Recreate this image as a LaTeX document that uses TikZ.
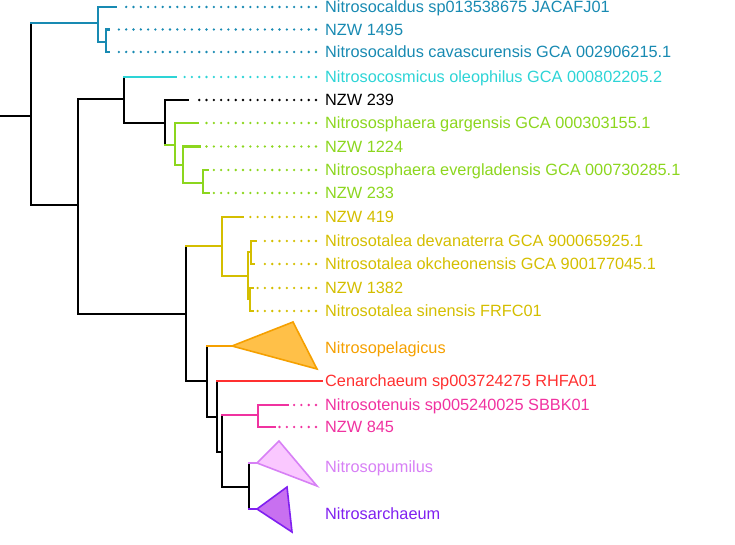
\documentclass[tikz,border=0pt]{standalone}
\usepackage{fontspec}
\setmainfont{Liberation Sans}
\definecolor{caldus}{RGB}{24,138,178}
\definecolor{cosmic}{RGB}{45,212,214}
\definecolor{sphaera}{RGB}{140,214,30}
\definecolor{talea}{RGB}{212,190,0}
\definecolor{pelag}{RGB}{245,160,0}
\definecolor{pelagfill}{RGB}{255,192,72}
\definecolor{cenarch}{RGB}{255,48,48}
\definecolor{tenuis}{RGB}{240,50,160}
\definecolor{pumil}{RGB}{215,128,245}
\definecolor{pumilfill}{RGB}{250,200,255}
\definecolor{sarch}{RGB}{128,32,240}
\definecolor{sarchfill}{RGB}{200,112,240}

\begin{document}
\begin{tikzpicture}[x=1pt, y=-1pt,
    branch/.style={line width=2.1pt, line cap=rect},
    leafdots/.style={line width=2.6pt, line cap=round, dash pattern=on 0pt off 7.3pt},
    clade/.style={line width=1.6pt, line join=miter},
    taxon/.style={anchor=west, inner sep=0pt, text height=11.7pt, text depth=0pt,
        font=\fontsize{16.3}{19}\selectfont}]

        \useasboundingbox (0,0) rectangle (735,545);

        \coordinate (base) at (0, 116);
        \coordinate (R) at (31, 116);
        \coordinate (B1) at (98, 23);
        \coordinate (B2) at (106, 42);
        \coordinate (A) at (78, 205);
        \coordinate (C1) at (124, 99);
        \coordinate (C2) at (165, 123);
        \coordinate (G1) at (175, 145);
        \coordinate (G2) at (183, 165);
        \coordinate (G3) at (203, 183);
        \coordinate (D) at (186, 314);
        \coordinate (Y1) at (222, 246);
        \coordinate (Y2) at (248, 276);
        \coordinate (Y3) at (251, 252);
        \coordinate (Y4) at (250, 299);
        \coordinate (E) at (207, 381);
        \coordinate (F) at (217, 417);
        \coordinate (H) at (222, 452);
        \coordinate (P) at (258, 415);
        \coordinate (K) at (249, 487);

        \coordinate (t1) at (116, 7);
        \coordinate (t2) at (109, 29.5);
        \coordinate (t3) at (109, 52);
        \coordinate (t4) at (176, 77);
        \coordinate (t5) at (188, 100);
        \coordinate (t6) at (198, 123);
        \coordinate (t7) at (200, 146.5);
        \coordinate (t8) at (208, 170);
        \coordinate (t9) at (209, 193);
        \coordinate (t10) at (243, 217);
        \coordinate (t11) at (256, 241);
        \coordinate (t12) at (254, 264);
        \coordinate (t13) at (253, 288);
        \coordinate (t14) at (253, 311);
        \coordinate (pe) at (232, 346);
        \coordinate (t16) at (322, 381);
        \coordinate (t17) at (288, 405);
        \coordinate (t18) at (275, 427);
        \coordinate (pu) at (257, 463);
        \coordinate (sa) at (257, 509);

        \node[taxon, caldus] (l1) at (325, 7) {Nitrosocaldus sp013538675 JACAFJ01};
        \node[taxon, caldus] (l2) at (325, 29.5) {NZW 1495};
        \node[taxon, caldus] (l3) at (325, 52) {Nitrosocaldus cavascurensis GCA 002906215.1};
        \node[taxon, cosmic] (l4) at (325, 77) {Nitrosocosmicus oleophilus GCA 000802205.2};
        \node[taxon] (l5) at (325, 100) {NZW 239};
        \node[taxon, sphaera] (l6) at (325, 123) {Nitrososphaera gargensis GCA 000303155.1};
        \node[taxon, sphaera] (l7) at (325, 146.5) {NZW 1224};
        \node[taxon, sphaera] (l8) at (325, 170) {Nitrososphaera evergladensis GCA 000730285.1};
        \node[taxon, sphaera] (l9) at (325, 193) {NZW 233};
        \node[taxon, talea] (l10) at (325, 217) {NZW 419};
        \node[taxon, talea] (l11) at (325, 241) {Nitrosotalea devanaterra GCA 900065925.1};
        \node[taxon, talea] (l12) at (325, 264) {Nitrosotalea okcheonensis GCA 900177045.1};
        \node[taxon, talea] (l13) at (325, 288) {NZW 1382};
        \node[taxon, talea] (l14) at (325, 311) {Nitrosotalea sinensis FRFC01};
        \node[taxon, pelag] (l15) at (325, 348) {Nitrosopelagicus};
        \node[taxon, cenarch] (l16) at (325, 381) {Cenarchaeum sp003724275 RHFA01};
        \node[taxon, tenuis] (l17) at (325, 405) {Nitrosotenuis sp005240025 SBBK01};
        \node[taxon, tenuis] (l18) at (325, 427) {NZW 845};
        \node[taxon, pumil] (l19) at (325, 467) {Nitrosopumilus};
        \node[taxon, sarch] (l20) at (325, 514) {Nitrosarchaeum};

        \draw[branch] (base) -- (R);
        \draw[branch] (R |- B1) -- (R |- A);
        \draw[branch, caldus] (R |- B1) -- (B1);
        \draw[branch] (R |- A) -- (A);

        \draw[branch, caldus] (B1 |- t1) -- (B1 |- B2);
        \draw[branch, caldus] (B1 |- t1) -- (t1);
        \draw[branch, caldus] (B1 |- B2) -- (B2);
        \draw[branch, caldus] (B2 |- t2) -- (B2 |- t3);
        \draw[branch, caldus] (B2 |- t2) -- (t2);
        \draw[branch, caldus] (B2 |- t3) -- (t3);

        \draw[branch] (A |- C1) -- (A |- D);
        \draw[branch] (A |- C1) -- (C1);
        \draw[branch] (A |- D) -- (D);
        \draw[branch] (C1 |- t4) -- (C1 |- C2);
        \draw[branch, cosmic] (C1 |- t4) -- (t4);
        \draw[branch] (C1 |- C2) -- (C2);
        \draw[branch] (C2 |- t5) -- (C2 |- G1);
        \draw[branch] (C2 |- t5) -- (t5);
        \draw[branch, sphaera] (C2 |- G1) -- (G1);
        \draw[branch, sphaera] (G1 |- t6) -- (G1 |- G2);
        \draw[branch, sphaera] (G1 |- t6) -- (t6);
        \draw[branch, sphaera] (G1 |- G2) -- (G2);
        \draw[branch, sphaera] (G2 |- t7) -- (G2 |- G3);
        \draw[branch, sphaera] (G2 |- t7) -- (t7);
        \draw[branch, sphaera] (G2 |- G3) -- (G3);
        \draw[branch, sphaera] (G3 |- t8) -- (G3 |- t9);
        \draw[branch, sphaera] (G3 |- t8) -- (t8);
        \draw[branch, sphaera] (G3 |- t9) -- (t9);

        \draw[branch] (D |- Y1) -- (D |- E);
        \draw[branch, talea] (D |- Y1) -- (Y1);
        \draw[branch] (D |- E) -- (E);
        \draw[branch, talea] (Y1 |- t10) -- (Y1 |- Y2);
        \draw[branch, talea] (Y1 |- t10) -- (t10);
        \draw[branch, talea] (Y1 |- Y2) -- (Y2);
        \draw[branch, talea] (Y2 |- Y3) -- (Y2 |- Y4);
        \draw[branch, talea] (Y2 |- Y3) -- (Y3);
        \draw[branch, talea] (Y2 |- Y4) -- (Y4);
        \draw[branch, talea] (Y3 |- t11) -- (Y3 |- t12);
        \draw[branch, talea] (Y3 |- t11) -- (t11);
        \draw[branch, talea] (Y3 |- t12) -- (t12);
        \draw[branch, talea] (Y4 |- t13) -- (Y4 |- t14);
        \draw[branch, talea] (Y4 |- t13) -- (t13);
        \draw[branch, talea] (Y4 |- t14) -- (t14);

        \draw[branch] (E |- pe) -- (E |- F);
        \draw[branch, pelag] (E |- pe) -- (pe);
        \draw[branch] (E |- F) -- (F);
        \draw[branch] (F |- t16) -- (F |- H);
        \draw[branch, cenarch] (F |- t16) -- (t16);
        \draw[branch] (F |- H) -- (H);
        \draw[branch] (H |- P) -- (H |- K);
        \draw[branch, tenuis] (H |- P) -- (P);
        \draw[branch] (H |- K) -- (K);
        \draw[branch, tenuis] (P |- t17) -- (P |- t18);
        \draw[branch, tenuis] (P |- t17) -- (t17);
        \draw[branch, tenuis] (P |- t18) -- (t18);
        \draw[branch] (K |- pu) -- (K |- sa);
        \draw[branch, pumil] (K |- pu) -- (pu);
        \draw[branch, sarch] (K |- sa) -- (sa);

        \filldraw[clade, pelag, fill=pelagfill] (pe) -- (293, 322) -- (317, 369) -- cycle;
        \filldraw[clade, pumil, fill=pumilfill] (pu) -- (279, 441) -- (317, 486) -- cycle;
        \filldraw[clade, sarch, fill=sarchfill] (sa) -- (287, 487) -- (292, 532) -- cycle;

        \draw[leafdots, caldus] ([xshift=-9pt]l1.west) -- ([xshift=4pt]t1);
        \draw[leafdots, caldus] ([xshift=-9pt]l2.west) -- ([xshift=4pt]t2);
        \draw[leafdots, caldus] ([xshift=-9pt]l3.west) -- ([xshift=4pt]t3);
        \draw[leafdots, cosmic] ([xshift=-9pt]l4.west) -- ([xshift=4pt]t4);
        \draw[leafdots] ([xshift=-9pt]l5.west) -- ([xshift=4pt]t5);
        \draw[leafdots, sphaera] ([xshift=-9pt]l6.west) -- ([xshift=4pt]t6);
        \draw[leafdots, sphaera] ([xshift=-9pt]l7.west) -- ([xshift=4pt]t7);
        \draw[leafdots, sphaera] ([xshift=-9pt]l8.west) -- ([xshift=4pt]t8);
        \draw[leafdots, sphaera] ([xshift=-9pt]l9.west) -- ([xshift=4pt]t9);
        \draw[leafdots, talea] ([xshift=-9pt]l10.west) -- ([xshift=4pt]t10);
        \draw[leafdots, talea] ([xshift=-9pt]l11.west) -- ([xshift=4pt]t11);
        \draw[leafdots, talea] ([xshift=-9pt]l12.west) -- ([xshift=4pt]t12);
        \draw[leafdots, talea] ([xshift=-9pt]l13.west) -- ([xshift=4pt]t13);
        \draw[leafdots, talea] ([xshift=-9pt]l14.west) -- ([xshift=4pt]t14);
        \draw[leafdots, tenuis] ([xshift=-9pt]l17.west) -- ([xshift=4pt]t17);
        \draw[leafdots, tenuis] ([xshift=-9pt]l18.west) -- ([xshift=4pt]t18);
    \end{tikzpicture}
\end{document}
